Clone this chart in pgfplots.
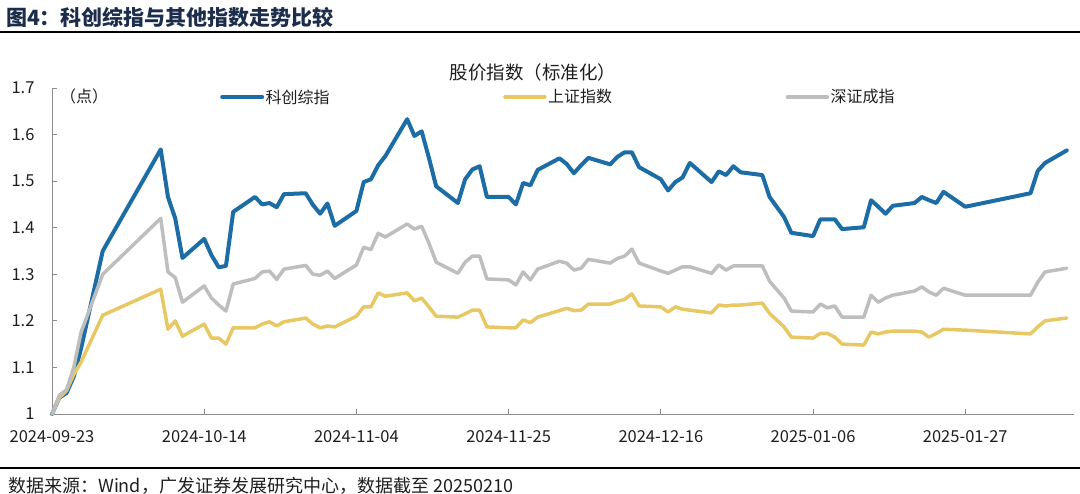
\documentclass[border=0pt]{standalone}
\usepackage{fontspec}
\setmainfont{Noto Sans CJK SC}
\usepackage{pgfplots}
\pgfplotsset{compat=1.18}
\usepackage{pgfplotstable}

\definecolor{kcblue}{RGB}{28,108,165}
\definecolor{shyellow}{RGB}{232,200,100}
\definecolor{szgray}{RGB}{190,190,190}
\definecolor{axgray}{RGB}{140,140,140}
\definecolor{titlenavy}{RGB}{28,45,75}
\definecolor{txt}{RGB}{30,30,30}

% d = days since 2024-09-23; kc = 科创综指, sh = 上证指数, sz = 深证成指
\pgfplotstableread{
d   kc    sh    sz
0   1.000 1.000 1.000
1   1.035 1.035 1.040
2   1.045 1.050 1.052
3   1.080 1.085 1.100
4   1.140 1.111 1.175
7   1.350 1.212 1.300
15  1.568 1.268 1.420
16  1.466 1.182 1.305
17  1.420 1.200 1.293
18  1.335 1.167 1.240
21  1.376 1.193 1.275
22  1.341 1.163 1.249
23  1.315 1.163 1.234
24  1.318 1.150 1.221
25  1.434 1.185 1.279
28  1.466 1.185 1.291
29  1.450 1.193 1.305
30  1.453 1.198 1.307
31  1.444 1.189 1.289
32  1.472 1.198 1.311
35  1.474 1.206 1.319
36  1.449 1.193 1.300
37  1.430 1.185 1.298
38  1.452 1.189 1.307
39  1.404 1.187 1.291
42  1.436 1.210 1.320
43  1.498 1.230 1.358
44  1.504 1.230 1.353
45  1.534 1.260 1.388
46  1.554 1.253 1.380
49  1.633 1.260 1.408
50  1.597 1.243 1.397
51  1.607 1.249 1.403
52  1.550 1.230 1.367
53  1.489 1.210 1.326
56  1.453 1.208 1.302
57  1.504 1.215 1.326
58  1.525 1.223 1.339
59  1.532 1.223 1.339
60  1.466 1.187 1.290
63  1.466 1.185 1.288
64  1.450 1.185 1.277
65  1.496 1.202 1.305
66  1.491 1.196 1.288
67  1.524 1.208 1.311
70  1.549 1.222 1.328
71  1.537 1.227 1.324
72  1.517 1.222 1.309
73  1.534 1.223 1.313
74  1.550 1.236 1.332
77  1.536 1.236 1.324
78  1.552 1.242 1.334
79  1.562 1.246 1.339
80  1.562 1.258 1.354
81  1.530 1.232 1.324
84  1.504 1.230 1.307
85  1.480 1.219 1.302
86  1.498 1.230 1.309
87  1.508 1.225 1.316
88  1.539 1.223 1.316
91  1.498 1.217 1.302
92  1.521 1.234 1.320
93  1.513 1.232 1.309
94  1.532 1.234 1.318
95  1.519 1.234 1.318
98  1.513 1.238 1.318
99  1.466 1.216 1.285
101 1.423 1.187 1.249
102 1.389 1.165 1.221
105 1.382 1.163 1.219
106 1.418 1.173 1.236
107 1.418 1.173 1.228
108 1.418 1.165 1.232
109 1.397 1.150 1.208
112 1.401 1.148 1.208
113 1.459 1.176 1.255
114 1.445 1.172 1.240
115 1.430 1.176 1.249
116 1.447 1.178 1.255
119 1.453 1.178 1.264
120 1.466 1.176 1.273
121 1.459 1.165 1.262
122 1.453 1.173 1.255
123 1.477 1.182 1.270
126 1.445 1.180 1.255
135 1.474 1.172 1.255
136 1.522 1.187 1.283
137 1.539 1.200 1.305
140 1.566 1.206 1.313
}\idx

\begin{document}
\begin{tikzpicture}[x=1pt,y=1pt]
\useasboundingbox (0,0) rectangle (1080,494);

% header and footer
\node[anchor=west, inner sep=0, text=titlenavy,
      font=\fontsize{21}{21}\selectfont\bfseries] at (6,477) {图4：科创综指与其他指数走势比较};
\draw[line width=1.3pt] (0,462) -- (1080,462);
\draw[line width=1.3pt] (0,26) -- (1080,26);
\node[anchor=west, inner sep=0, text=txt,
      font=\fontsize{18}{18}\selectfont] at (8,8) {数据来源：Wind，广发证券发展研究中心，数据截至 20250210};

\node[text=txt, font=\fontsize{18.5}{18.5}\selectfont] at (533,422) {股价指数（标准化）};
\node[text=txt, font=\fontsize{16}{16}\selectfont] at (84,398) {（点）};

\begin{axis}[
  at={(52pt,80pt)}, anchor=south west,
  scale only axis, width=1022pt, height=326pt,
  xmin=0, xmax=141, ymin=1, ymax=1.7,
  clip=false,
  axis lines=left,
  axis line style={-, draw=axgray, line width=0.9pt},
  xtick={0,21,42,63,84,105,126},
  xticklabels={2024-09-23,2024-10-14,2024-11-04,2024-11-25,2024-12-16,2025-01-06,2025-01-27},
  ytick={1,1.1,1.2,1.3,1.4,1.5,1.6,1.7},
  yticklabels={1,1.1,1.2,1.3,1.4,1.5,1.6,1.7},
  tick align=inside,
  major tick length=5pt,
  tick style={draw=axgray, line width=0.9pt},
  ticklabel style={font=\fontsize{16.5}{16.5}\selectfont, text=txt},
  xticklabel style={yshift=-13pt},
  yticklabel style={xshift=-14pt},
  legend columns=3,
  legend style={
    at={(0.1644,0.9724)}, anchor=west,
    draw=none, fill=none, inner sep=0pt,
    font=\fontsize{16}{16}\selectfont, text=txt,
    nodes={inner sep=1.5pt},
    /tikz/every even column/.append style={column sep=172pt},
  },
  legend image code/.code={\draw[#1] (0pt,0pt) -- (40pt,0pt);},
]
\addplot[kcblue, line width=4pt, line join=round, line cap=round] table[x=d, y=kc] {\idx};
\addplot[shyellow, line width=3.5pt, line join=round, line cap=round] table[x=d, y=sh] {\idx};
\addplot[szgray, line width=3.5pt, line join=round, line cap=round] table[x=d, y=sz] {\idx};
\legend{科创综指, 上证指数, 深证成指}
\end{axis}
\end{tikzpicture}
\end{document}
